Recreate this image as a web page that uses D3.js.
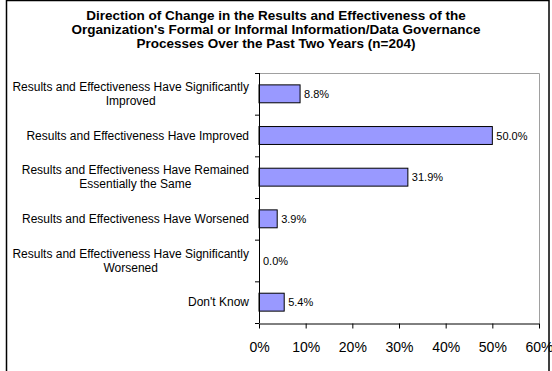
<!DOCTYPE html>
<html>
<head>
<meta charset="utf-8">
<script src="https://cdn.jsdelivr.net/npm/d3@7"></script>
<style>
  body { margin: 0; background: #fff; }
  text { font-family: Arial, "Liberation Sans", sans-serif; }
</style>
</head>
<body>
<div id="chart"></div>
<script>
const titleLines = [
    'Direction of Change in the Results and Effectiveness of the',
    "Organization's Formal or Informal Information/Data Governance",
    'Processes Over the Past Two Years (n=204)'
];
const categories = [
    ['Results and Effectiveness Have Significantly', 'Improved'],
    ['Results and Effectiveness Have Improved'],
    ['Results and Effectiveness Have Remained', 'Essentially the Same'],
    ['Results and Effectiveness Have Worsened'],
    ['Results and Effectiveness Have Significantly', 'Worsened'],
    ["Don't Know"]
];
const values = [8.8, 50.0, 31.9, 3.9, 0.0, 5.4];
const ticks = [0, 10, 20, 30, 40, 50, 60];

const width = 552;
const height = 371;
const margin = {top: 73, right: 13, bottom: 48, left: 259};

const svg = d3.select('#chart')
    .append('svg')
    .attr('width', width)
    .attr('height', height);

// outer frame (bottom is cut off in the original)
svg.append('rect')
    .attr('x', 6.5).attr('y', 0.5)
    .attr('width', 542.5).attr('height', height + 5)
    .style('fill', 'none')
    .style('stroke', '#000')
    .style('stroke-width', 1.5);

const title = svg.append('text')
    .attr('text-anchor', 'middle')
    .style('font-weight', 'bold')
    .style('font-size', '13.5px');
titleLines.forEach((t, i) => {
    title.append('tspan')
        .attr('x', 276)
        .attr('y', 20 + i * 14)
        .text(t);
});

const rows = categories.map((c, i) => ({label: c, value: values[i], key: i}));

const x = d3.scaleLinear()
    .domain([0, 60])
    .range([margin.left, width - margin.right]);

const y = d3.scaleBand()
    .domain(rows.map(d => d.key))
    .range([margin.top, height - margin.bottom])
    .paddingInner(0.57)
    .paddingOuter(0.285);

const plotTop = margin.top;
const plotBottom = height - margin.bottom;

// plot area border (top and right)
svg.append('path')
    .attr('d', `M${x(0)},${plotTop + 0.5}H${x(60) + 0.5}V${plotBottom}`)
    .style('fill', 'none')
    .style('stroke', '#a0a0a0')
    .style('stroke-width', 1);

svg.selectAll('.bar').data(rows)
    .enter().append('rect')
    .attr('class', 'bar')
    .attr('x', x(0))
    .attr('y', d => y(d.key))
    .attr('width', d => x(d.value) - x(0))
    .attr('height', y.bandwidth())
    .style('fill', '#9999ff')
    .style('stroke', '#000')
    .style('stroke-width', d => d.value > 0 ? 1 : 0);

svg.selectAll('.valueLabel').data(rows)
    .enter().append('text')
    .attr('class', 'valueLabel')
    .attr('x', d => x(d.value) + 4)
    .attr('y', d => y(d.key) + y.bandwidth() / 2 + 4)
    .style('font-size', '11px')
    .style('fill', '#000')
    .text(d => d.value.toFixed(1) + '%');

// category labels
const step = y.step();
const catLabels = svg.selectAll('.catLabel').data(rows)
    .enter().append('text')
    .attr('class', 'catLabel')
    .attr('text-anchor', 'middle')
    .style('font-size', '12px');
catLabels.each(function(d) {
    const el = d3.select(this);
    const cy = y(d.key) + y.bandwidth() / 2;
    const lh = 14;
    const n = d.label.length;
    d.label.forEach((line, i) => {
        el.append('tspan')
            .attr('y', cy + 4 - (n - 1) * lh / 2 + i * lh)
            .text(line);
    });
});
// right-align the centred block against the axis
catLabels.each(function(d) {
    const el = d3.select(this);
    let w = 0;
    el.selectAll('tspan').each(function() { w = Math.max(w, this.getComputedTextLength()); });
    el.selectAll('tspan').attr('x', 249 - w / 2);
});

// y axis with ticks between categories
const yAxis = svg.append('g');
yAxis.append('line')
    .attr('x1', x(0) + 0.5).attr('x2', x(0) + 0.5)
    .attr('y1', plotTop).attr('y2', plotBottom)
    .style('stroke', '#000');
yAxis.selectAll('.ytick').data(d3.range(rows.length + 1))
    .enter().append('line')
    .attr('class', 'ytick')
    .attr('x1', x(0) - 4).attr('x2', x(0))
    .attr('y1', i => plotTop + i * step + 0.5)
    .attr('y2', i => plotTop + i * step + 0.5)
    .style('stroke', '#000');

const xAxis = svg.append('g')
    .attr('transform', `translate(0, ${plotBottom + 0.5})`)
    .call(d3.axisBottom(x).tickValues(ticks).tickSize(5).tickSizeOuter(0).tickPadding(14)
        .tickFormat(d => d + '%'));
xAxis.select('.domain').attr('stroke', '#000');
xAxis.selectAll('.tick line').attr('stroke', '#000');
xAxis.selectAll('.tick text')
    .style('font-size', '14px')
    .style('font-family', 'Arial, "Liberation Sans", sans-serif')
    .style('fill', '#000');
</script>
</body>
</html>
